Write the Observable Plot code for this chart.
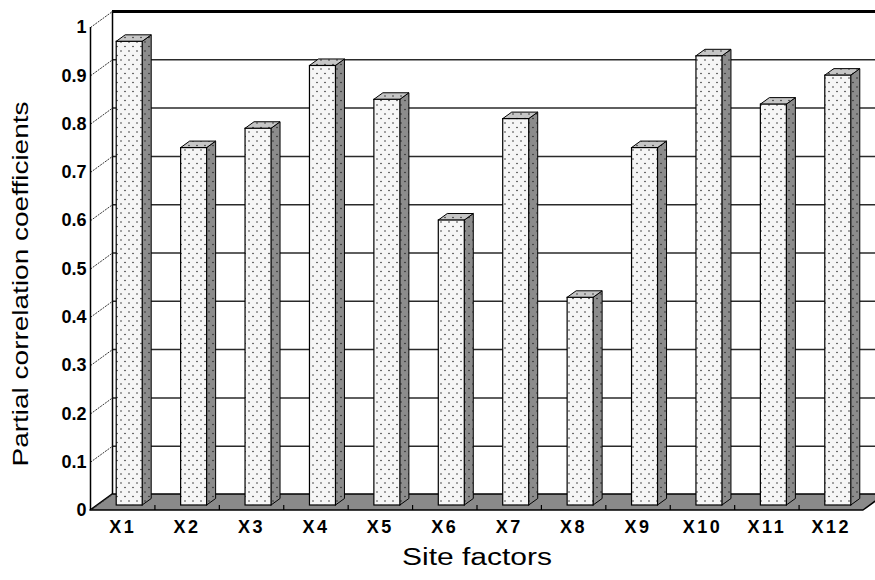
<!DOCTYPE html>
<html>
<head>
<meta charset="utf-8">
<script src="https://cdn.jsdelivr.net/npm/d3@7"></script>
<script src="https://cdn.jsdelivr.net/npm/@observablehq/plot@0.6"></script>
<style>
  html, body { margin: 0; padding: 0; background: white; }
  #chart { width: 875px; height: 580px; overflow: hidden; }
</style>
</head>
<body>
<div id="chart"></div>
<script>
// ---- data ----
const categories = ["X1", "X2", "X3", "X4", "X5", "X6", "X7", "X8", "X9", "X10", "X11", "X12"];
const values = [0.96, 0.74, 0.78, 0.91, 0.84, 0.59, 0.80, 0.43, 0.74, 0.93, 0.83, 0.89];
const yTicks = [0, 0.1, 0.2, 0.3, 0.4, 0.5, 0.6, 0.7, 0.8, 0.9, 1];
const yTickLabels = ["0", "0.1", "0.2", "0.3", "0.4", "0.5", "0.6", "0.7", "0.8", "0.9", "1"];
const xTitle = "Site factors";
const yTitle = "Partial correlation coefficients";

// ---- layout ----
const W = 875, H = 580;
const mL = 90, mR = 12, mT = 27, mB = 70;
const pxX = (W - mL - mR) / categories.length; // pixels per category unit
const pxY = (H - mT - mB);                      // pixels per unit of y
const wallDX = 22 / pxX, wallDY = 16 / pxY;     // depth of the back wall
const barHalf = 13 / pxX;                       // half width of bar front face
const depthX = 9 / pxX, depthY = 6.5 / pxY;     // bar depth
const barDX = 7, barDY = -5;                    // bar front plane offset (px)
const x0 = 0.5, x1 = categories.length + 0.5;

const rows = categories.map((c, i) => ({c, pos: i + 1, v: values[i]}));
const xTicks = rows.map(d => d.pos);

const sidePts = rows.flatMap(d => [
  {k: d.c, x: d.pos + barHalf, y1: 0, y2: d.v},
  {k: d.c, x: d.pos + barHalf + depthX, y1: depthY, y2: d.v + depthY}
]);
const topPts = rows.flatMap(d => [
  {k: d.c, y: d.v, x1: d.pos - barHalf, x2: d.pos + barHalf},
  {k: d.c, y: d.v + depthY, x1: d.pos - barHalf + depthX, x2: d.pos + barHalf + depthX}
]);
const floorPts = [
  {y: 0, x1: x0, x2: x1},
  {y: wallDY, x1: x0 + wallDX, x2: x1 + wallDX}
];

const chart = Plot.plot({
  width: W,
  height: H,
  marginLeft: mL, marginRight: mR, marginTop: mT, marginBottom: mB,
  style: {
    fontFamily: "'Liberation Sans', Arial, sans-serif",
    fontSize: "18px",
    fontWeight: "bold",
    background: "white",
    color: "black",
    overflow: "hidden"
  },
  x: {
    type: "linear",
    domain: [x0, x1],
    ticks: xTicks,
    tickFormat: d => categories[d - 1],
    tickSize: 0,
    tickPadding: 10,
    label: null
  },
  y: {
    domain: [0, 1],
    ticks: yTicks,
    tickFormat: d => yTickLabels[yTicks.indexOf(d)],
    tickSize: 0,
    tickPadding: 4,
    label: null
  },
  marks: [
    // floor
    Plot.area(floorPts, {x1: "x1", x2: "x2", y1: "y", fill: "#8a8a8a", stroke: "black", strokeWidth: 1.5}),
    // back wall gridlines
    Plot.ruleY(yTicks.slice(1, -1), {y: d => d + wallDY, x1: x0 + wallDX, x2: x1 + 1, stroke: "#2a2a2a", strokeWidth: 1.5}),
    Plot.ruleY([1], {y: d => d + wallDY, x1: x0 + wallDX, x2: x1 + 1, stroke: "black", strokeWidth: 3}),
    // back wall left edge
    Plot.ruleX([x0 + wallDX], {y1: wallDY, y2: 1 + wallDY, stroke: "black", strokeWidth: 1.5}),
    // side wall connectors
    Plot.link(yTicks, {x1: x0, x2: x0 + wallDX, y1: d => d, y2: d => d + wallDY, stroke: "#333", strokeWidth: 1, strokeDasharray: "2,1"}),
    // front axis
    Plot.ruleX([x0], {y1: 0, y2: 1, stroke: "black", strokeWidth: 1.5}),
    // floor category ticks
    Plot.ruleX(d3.range(1.5, categories.length + 0.5, 1), {y1: 0, y2: 5 / pxY, stroke: "black", strokeWidth: 1.2}),
    // bars: side, top, front
    Plot.area(sidePts, {x1: "x", y1: "y1", y2: "y2", z: "k", fill: "url(#dotsSide)", stroke: "black", strokeWidth: 1, dx: barDX, dy: barDY}),
    Plot.area(topPts, {x1: "x1", x2: "x2", y1: "y", z: "k", fill: "url(#dotsTop)", stroke: "black", strokeWidth: 1, dx: barDX, dy: barDY}),
    Plot.rectY(rows, {x1: d => d.pos - barHalf, x2: d => d.pos + barHalf, y1: 0, y2: "v", fill: "url(#dotsFront)", stroke: "black", strokeWidth: 1.2, dx: barDX, dy: barDY}),
    // titles
    Plot.text([xTitle], {text: d => d, frameAnchor: "bottom", dy: 54, textAnchor: "middle", fontSize: 23, fontWeight: "normal"}),
    Plot.text([yTitle], {text: d => d, frameAnchor: "left", dx: -70, dy: 15, rotate: -90, textAnchor: "middle", fontSize: 22, fontWeight: "normal"})
  ]
});

// patterns
const ns = "http://www.w3.org/2000/svg";
const defs = document.createElementNS(ns, "defs");
function addPattern(id, bg, w, h, dots) {
  const p = document.createElementNS(ns, "pattern");
  p.setAttribute("id", id);
  p.setAttribute("patternUnits", "userSpaceOnUse");
  p.setAttribute("width", w);
  p.setAttribute("height", h);
  const r = document.createElementNS(ns, "rect");
  r.setAttribute("width", w); r.setAttribute("height", h); r.setAttribute("fill", bg);
  p.appendChild(r);
  for (const [cx, cy] of dots) {
    const c = document.createElementNS(ns, "circle");
    c.setAttribute("cx", cx); c.setAttribute("cy", cy); c.setAttribute("r", 0.75);
    c.setAttribute("fill", "#222");
    p.appendChild(c);
  }
  defs.appendChild(p);
}
addPattern("dotsFront", "#f6f6f6", 8, 9, [[2, 2], [6, 6.5]]);
addPattern("dotsSide", "#8c8c8c", 8, 9, [[2, 2], [6, 6.5]]);
addPattern("dotsTop", "#c6c6c6", 8, 9, [[2, 2], [6, 6.5]]);
chart.insertBefore(defs, chart.firstChild);

document.getElementById("chart").appendChild(chart);

// text width adjustments (the reference's lettering is wide)
chart.querySelectorAll("text").forEach(t => {
  const s = t.textContent;
  if (s === xTitle) { t.setAttribute("textLength", 150); t.setAttribute("lengthAdjust", "spacingAndGlyphs"); }
  else if (s === yTitle) { t.setAttribute("textLength", 365); t.setAttribute("lengthAdjust", "spacingAndGlyphs"); }
  else if (categories.includes(s)) { t.style.letterSpacing = "2.5px"; }
});
</script>
</body>
</html>
